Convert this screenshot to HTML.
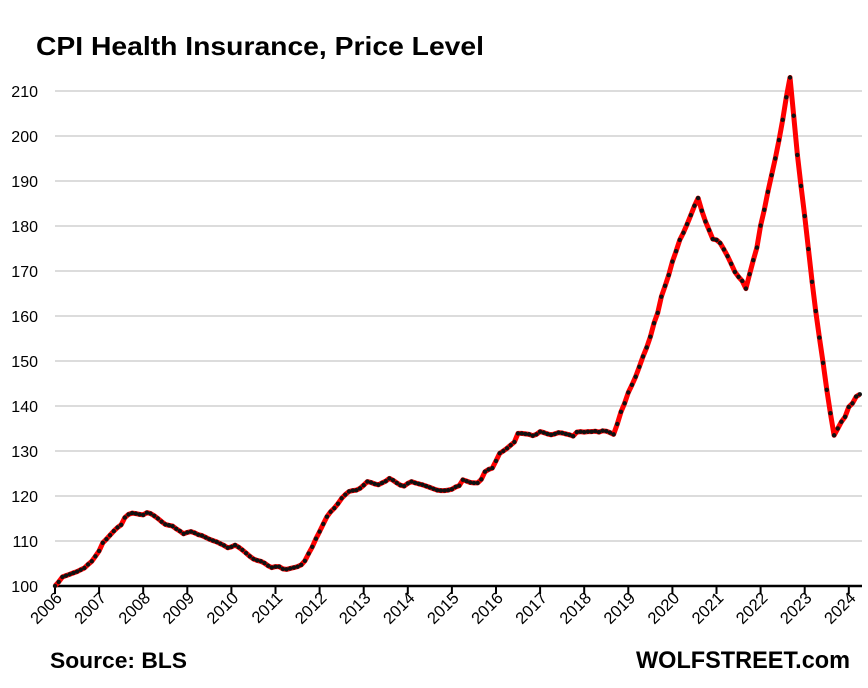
<!DOCTYPE html>
<html><head><meta charset="utf-8"><style>
body{margin:0;background:#fff;width:868px;height:688px;overflow:hidden}
svg{display:block;font-family:"Liberation Sans",sans-serif}
</style></head><body>
<svg id="chart" width="868" height="688" viewBox="0 0 868 688">
<text x="36" y="55" font-size="26" font-weight="bold" textLength="448" lengthAdjust="spacingAndGlyphs">CPI Health Insurance, Price Level</text>
<g id="grid"></g><g id="yl"></g><g id="xa"></g><g id="series"></g>
<text x="50" y="668" font-size="22" font-weight="bold" textLength="137" lengthAdjust="spacingAndGlyphs">Source: BLS</text>
<text x="850" y="668" font-size="24" font-weight="bold" text-anchor="end" textLength="214" lengthAdjust="spacingAndGlyphs">WOLFSTREET.com</text>
</svg>
<script>
const yTicks=[100,110,120,130,140,150,160,170,180,190,200,210];
const years=[2006,2007,2008,2009,2010,2011,2012,2013,2014,2015,2016,2017,2018,2019,2020,2021,2022,2023,2024];
const values=[
100,100.9,102,102.3,102.6,102.9,103.2,103.6,104,104.8,105.5,106.6,
107.8,109.6,110.4,111.3,112.2,113,113.6,115.2,115.9,116.2,116.1,115.9,
115.8,116.3,116.1,115.6,115,114.3,113.7,113.5,113.3,112.7,112.2,111.6,
111.9,112.1,111.8,111.4,111.2,110.8,110.4,110.1,109.8,109.4,109,108.5,
108.7,109.1,108.6,108,107.3,106.6,106,105.7,105.5,105.1,104.5,104.1,
104.3,104.3,103.8,103.7,103.9,104.1,104.3,104.7,105.6,107.2,108.7,110.5,
112.1,113.8,115.4,116.5,117.3,118.3,119.5,120.3,121,121.2,121.3,121.7,
122.4,123.2,123,122.7,122.5,122.9,123.3,123.9,123.5,122.9,122.4,122.2,
122.8,123.2,122.9,122.7,122.5,122.2,121.9,121.6,121.3,121.2,121.2,121.3,
121.5,122,122.3,123.6,123.3,123,122.9,122.9,123.7,125.4,125.9,126.2,
127.8,129.5,130,130.6,131.3,132,133.9,133.9,133.8,133.7,133.4,133.7,
134.3,134.1,133.8,133.6,133.8,134.1,134,133.8,133.6,133.3,134.2,134.3,
134.2,134.3,134.3,134.4,134.2,134.5,134.4,134.1,133.7,
136,138.7,140.6,143,144.7,146.5,148.7,151,153,155.4,158.4,160.7,164.3,166.7,169.1,172.1,174.4,176.9,178.5,180.4,182.4,184.5,186.2,
183.4,181,179.1,177.1,176.9,176.2,174.8,173.3,171.6,169.8,168.7,167.8,166.1,
169.3,172.4,175.2,180.1,183.6,187.6,191.3,195,199.1,203.6,208.6,213,
204.5,195.8,188.9,182.2,174.9,167.6,161.1,155.2,149.6,143.6,138.4,133.5,
135,136.5,137.6,139.8,140.6,142.1,142.6];
const NS='http://www.w3.org/2000/svg';
const X0=55,XMAX=862,YEARW=44.1,Y100=586,PX=4.5;
function xm(m){return X0+m*YEARW/12;}
function yv(v){return Y100-(v-100)*PX;}
function mk(t,a,p){const e=document.createElementNS(NS,t);for(const k in a)e.setAttribute(k,a[k]);p.appendChild(e);return e;}
const grid=document.getElementById('grid'),yl=document.getElementById('yl'),xa=document.getElementById('xa'),ser=document.getElementById('series');
yTicks.forEach(t=>{
  if(t>100){const g=mk('line',{x1:X0,x2:XMAX,y1:yv(t),y2:yv(t),stroke:'#d0d0d0','stroke-width':1.5},grid);
  
  }
  const l=mk('text',{x:38,y:yv(t)+6,'font-size':16,'text-anchor':'end'},yl);l.textContent=t;
  
  
});
const ax=mk('line',{x1:X0,x2:XMAX,y1:Y100,y2:Y100,stroke:'#000','stroke-width':2.5},xa);


years.forEach((y,i)=>{
  const x=xm(i*12);
  const tk=mk('line',{x1:x,x2:x,y1:Y100,y2:Y100+8,stroke:'#000','stroke-width':2},xa);
  
  
  const t=mk('text',{x:x+8,y:Y100+13,'font-size':16.5,'text-anchor':'end',transform:`rotate(-45 ${x+8} ${Y100+13})`},xa);
  t.textContent=y;
  
  
});
const pts=values.map((v,i)=>xm(i).toFixed(1)+','+yv(v).toFixed(1)).join(' ');
const pl=mk('polyline',{points:pts,fill:'none',stroke:'#ff0000','stroke-width':5,'stroke-linejoin':'round'},ser);


values.forEach((v,i)=>{
  const c=mk('circle',{cx:xm(i),cy:yv(v),r:2.2,fill:'#111'},ser);
  
  
});
</script>
</body></html>
